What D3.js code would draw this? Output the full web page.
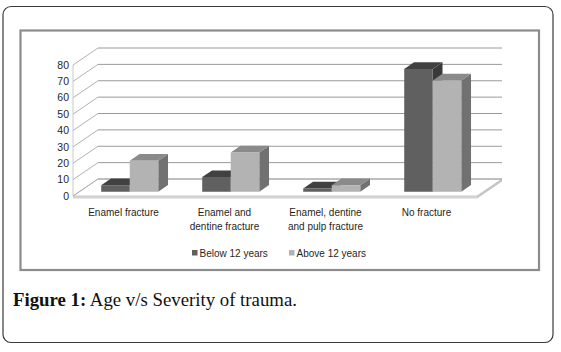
<!DOCTYPE html>
<html>
<head>
<meta charset="utf-8">
<script src="https://cdn.jsdelivr.net/npm/d3@7"></script>
<style>
  body { margin: 0; background: #fff; }
</style>
</head>
<body>
<div id="chart"></div>
<script>
// chart data
const categories = ["Enamel fracture", "Enamel and dentine fracture", "Enamel, dentine and pulp fracture", "No fracture"];
const categoryLines = [["Enamel fracture"], ["Enamel and", "dentine fracture"], ["Enamel, dentine", "and pulp fracture"], ["No fracture"]];
const seriesNames = ["Below 12 years", "Above 12 years"];
const below12 = [4, 9, 2, 75];
const above12 = [19, 24, 4, 68];
const yTicks = [0, 10, 20, 30, 40, 50, 60, 70, 80];

const width = 561;
const height = 352;

// 3d depth vector for the whole floor, bars use a slice of it
const depthX = 25, depthY = -17;
const barFront = 0.25, barBack = 0.64;

const colors = {
  "Below 12 years": { front: "#606060", top: "#414141", side: "#3a3a3a" },
  "Above 12 years": { front: "#b3b3b3", top: "#8a8a8a", side: "#717171" }
};

const svg = d3.select("#chart")
  .append("svg")
    .attr("width", width)
    .attr("height", height);

// outer rounded frame
svg.append("rect")
  .attr("x", 3).attr("y", 6.5)
  .attr("width", 550).attr("height", 336)
  .attr("rx", 8)
  .attr("fill", "none")
  .attr("stroke", "#3a3a3a")
  .attr("stroke-width", 1.2);

// chart area border
svg.append("rect")
  .attr("x", 20.5).attr("y", 30.5)
  .attr("width", 518.5).attr("height", 239.5)
  .attr("fill", "#fff")
  .attr("stroke", "#8c8c8c")
  .attr("stroke-width", 2.2);

// scales (front plane)
const x0 = d3.scaleBand()
  .domain(categories)
  .range([73, 477]);

const x1 = d3.scaleBand()
  .domain(seriesNames)
  .range([0, x0.bandwidth()])
  .paddingOuter(0.77);

const y = d3.scaleLinear()
  .domain([0, 80])
  .range([196, 65]);

const pt = (px, py, f) => [px + depthX * f, py + depthY * f];
const poly = pts => pts.map(p => p.join(",")).join(" ");

// floor
const floorL = x0.range()[0], floorR = x0.range()[1];
svg.append("polygon")
  .attr("points", poly([pt(floorL, y(0), 0), pt(floorR, y(0), 0), pt(floorR, y(0), 1), pt(floorL, y(0), 1)]))
  .attr("fill", "#fff")
  .attr("stroke", "#b8b8b8")
  .attr("stroke-width", 0.8);
svg.append("polygon")
  .attr("points", poly([pt(floorL, y(0), 0), pt(floorR, y(0), 0), pt(floorR, y(0) + 2.5, 0), pt(floorL, y(0) + 2.5, 0)]))
  .attr("fill", "#d2d2d2");
svg.append("polygon")
  .attr("points", poly([pt(floorR, y(0), 0), pt(floorR, y(0), 1), pt(floorR, y(0) + 2.5, 1), pt(floorR, y(0) + 2.5, 0)]))
  .attr("fill", "#c4c4c4");

// back wall gridlines
svg.append("g")
  .selectAll("line")
  .data(yTicks)
  .join("line")
    .attr("x1", floorL + depthX).attr("x2", floorR + depthX)
    .attr("y1", d => y(d) + depthY).attr("y2", d => y(d) + depthY)
    .attr("stroke", "#9a9a9a")
    .attr("stroke-width", 1);

// side wall diagonals
svg.append("g")
  .selectAll("line")
  .data(yTicks)
  .join("line")
    .attr("x1", floorL).attr("x2", floorL + depthX)
    .attr("y1", d => y(d)).attr("y2", d => y(d) + depthY)
    .attr("stroke", "#a8a8a8")
    .attr("stroke-width", 0.9);
svg.append("line")
  .attr("x1", floorL).attr("x2", floorL)
  .attr("y1", y(0)).attr("y2", y(80))
  .attr("stroke", "#bdbdbd")
  .attr("stroke-width", 0.8);

// y tick labels
svg.append("g")
  .selectAll("text")
  .data(yTicks)
  .join("text")
    .attr("x", 69)
    .attr("y", d => y(d))
    .attr("dy", "0.35em")
    .attr("text-anchor", "end")
    .attr("font-family", "Liberation Sans, Arial, sans-serif")
    .attr("font-size", 10.5)
    .attr("fill", "#1f1f1f")
    .text(d => d);

// bars
const bars = [];
categories.forEach((c, i) => {
  seriesNames.forEach((s, j) => {
    bars.push({ cat: c, series: s, value: [below12, above12][j][i] });
  });
});

const barG = svg.append("g")
  .selectAll("g")
  .data(bars)
  .join("g");

barG.each(function(d) {
  const g = d3.select(this);
  const xl = x0(d.cat) + x1(d.series);
  const xr = xl + x1.bandwidth();
  const yt = y(d.value), yb = y(0);
  const col = colors[d.series];
  // side
  g.append("polygon")
    .attr("points", poly([pt(xr, yt, barFront), pt(xr, yt, barBack), pt(xr, yb, barBack), pt(xr, yb, barFront)]))
    .attr("fill", col.side);
  // top
  g.append("polygon")
    .attr("points", poly([pt(xl, yt, barFront), pt(xr, yt, barFront), pt(xr, yt, barBack), pt(xl, yt, barBack)]))
    .attr("fill", col.top);
  // front
  const [fx, fy] = pt(xl, yt, barFront);
  g.append("rect")
    .attr("x", fx).attr("y", fy)
    .attr("width", xr - xl)
    .attr("height", yb - yt)
    .attr("fill", col.front);
});

// category labels
svg.append("g")
  .selectAll("text")
  .data(categories)
  .join("text")
    .attr("x", d => x0(d) + x0.bandwidth() / 2)
    .attr("y", 215.5)
    .attr("text-anchor", "middle")
    .attr("font-family", "Liberation Sans, Arial, sans-serif")
    .attr("font-size", 10)
    .attr("fill", "#1f1f1f")
    .each(function(d, i) {
      d3.select(this).selectAll("tspan")
        .data(categoryLines[i])
        .join("tspan")
          .attr("x", x0(d) + x0.bandwidth() / 2)
          .attr("dy", (t, k) => k === 0 ? 0 : 14.5)
          .text(t => t);
    });

// legend
const legendX = [192, 289];
const legend = svg.append("g")
  .selectAll("g")
  .data(seriesNames)
  .join("g")
    .attr("transform", (d, i) => `translate(${legendX[i]},253)`);
legend.append("rect")
  .attr("x", 0).attr("y", -3)
  .attr("width", 5.5).attr("height", 5.5)
  .attr("fill", d => colors[d].front);
legend.append("text")
  .attr("x", 7.5)
  .attr("y", 0)
  .attr("dy", "0.35em")
  .attr("font-family", "Liberation Sans, Arial, sans-serif")
  .attr("font-size", 10)
  .attr("fill", "#1f1f1f")
  .text(d => d);

// caption
const cap = svg.append("text")
  .attr("x", 13)
  .attr("y", 306)
  .attr("font-family", "Liberation Serif, Times New Roman, serif")
  .attr("font-size", 18.8)
  .attr("fill", "#111");
cap.append("tspan").attr("font-weight", "bold").text("Figure 1:");
cap.append("tspan").text(" Age v/s Severity of trauma.");
</script>
</body>
</html>
